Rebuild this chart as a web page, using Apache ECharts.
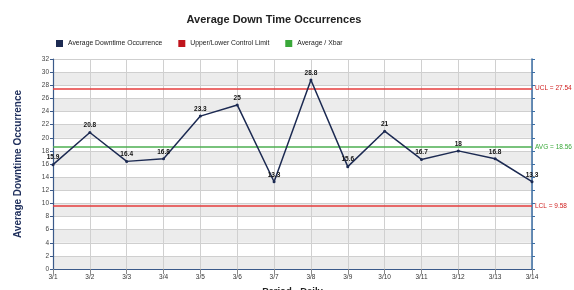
<!DOCTYPE html>
<html><head><meta charset="utf-8">
<script src="https://cdn.jsdelivr.net/npm/echarts@6/dist/echarts.min.js"></script>
<style>html,body{margin:0;padding:0;background:#fff}#c{width:574px;height:290px}</style>
</head><body><div id="c"></div>
<script>
var categories = ['3/1','3/2','3/3','3/4','3/5','3/6','3/7','3/8','3/9','3/10','3/11','3/12','3/13','3/14'];
var downtime = [15.9, 20.8, 16.4, 16.8, 23.3, 25, 13.3, 28.8, 15.6, 21, 16.7, 18, 16.8, 13.3];
var ucl = 27.54, lcl = 9.58, avg = 18.56;
var chart = echarts.init(document.getElementById('c'));
var fnt = 'Arial, "Liberation Sans", sans-serif';
chart.setOption({
  animation: false,
  textStyle: {fontFamily: fnt},
  title: {text: 'Average Down Time Occurrences', left: 269, textAlign: 'center', top: 9,
    textStyle: {fontSize: 11, fontWeight: 'bold', color: '#222', fontFamily: fnt}},
  legend: {left: 51, top: 35, itemWidth: 7, itemHeight: 7, itemGap: 16, icon: 'rect',
    textStyle: {fontSize: 6.8, color: '#222', fontFamily: fnt},
    data: ['Average Downtime Occurrence', 'Upper/Lower Control Limit', 'Average / Xbar']},
  grid: {left: 53, right: 42, top: 59, bottom: 21, containLabel: false, outerBoundsMode: 'none'},
  xAxis: {type: 'category', data: categories, boundaryGap: false,
    name: 'Period - Daily', nameLocation: 'middle', nameGap: 17,
    nameTextStyle: {fontSize: 9.5, fontWeight: 'bold', color: '#222'},
    axisLine: {lineStyle: {color: '#3b5a8a'}},
    axisTick: {show: true, lineStyle: {color: '#888'}},
    axisLabel: {fontSize: 6.5, color: '#333', margin: 5},
    splitLine: {show: true, lineStyle: {color: '#d0d0d0', width: 1}}},
  yAxis: [{type: 'value', min: 0, max: 32, interval: 2,
    name: 'Average Downtime Occurrence', nameLocation: 'middle', nameGap: 30, nameRotate: 90,
    nameTextStyle: {fontSize: 10, fontWeight: 'bold', color: '#1f2f5c'},
    axisLine: {show: true, lineStyle: {color: '#3b5a8a', width: 1.2}},
    axisTick: {show: true, length: 3, lineStyle: {color: '#3b5a8a'}},
    axisLabel: {fontSize: 6.5, color: '#444', margin: 4},
    splitLine: {show: true, lineStyle: {color: '#cfcfcf'}},
    splitArea: {show: true, areaStyle: {color: ['#ececec', '#ffffff']}}},
   {type: 'value', min: 0, max: 32, interval: 2, position: 'right',
    axisLine: {show: true, lineStyle: {color: '#3b6ea5', width: 1.5}},
    axisTick: {show: true, length: 3, lineStyle: {color: '#3b6ea5'}},
    axisLabel: {show: false}, splitLine: {show: false}}],
  series: [
    {name: 'Average Downtime Occurrence', type: 'line', data: downtime, z: 5,
      itemStyle: {color: '#1c2a52'}, lineStyle: {color: '#1c2a52', width: 1.5},
      symbol: 'circle', symbolSize: 3,
      label: {show: true, position: 'top', distance: 2, fontSize: 6.5, fontWeight: 'bold', color: '#111'}},
    {name: 'Upper/Lower Control Limit', type: 'line', data: [], itemStyle: {color: '#c0141c'},
      markLine: {silent: true, symbol: 'none', lineStyle: {color: '#e63c3c', width: 1.5, type: 'solid'},
        label: {position: 'end', fontSize: 6.5, color: '#d02020', distance: 3},
        data: [{yAxis: ucl, label: {formatter: 'UCL = ' + ucl}}, {yAxis: lcl, label: {formatter: 'LCL = ' + lcl}}]}},
    {name: 'Average / Xbar', type: 'line', data: [], itemStyle: {color: '#3aa83a'},
      markLine: {silent: true, symbol: 'none', lineStyle: {color: '#4caf50', width: 1.5, type: 'solid'},
        label: {position: 'end', fontSize: 6.5, color: '#3aa83a', distance: 3},
        data: [{yAxis: avg, label: {formatter: 'AVG = ' + avg}}]}}
  ]
});
</script></body></html>
